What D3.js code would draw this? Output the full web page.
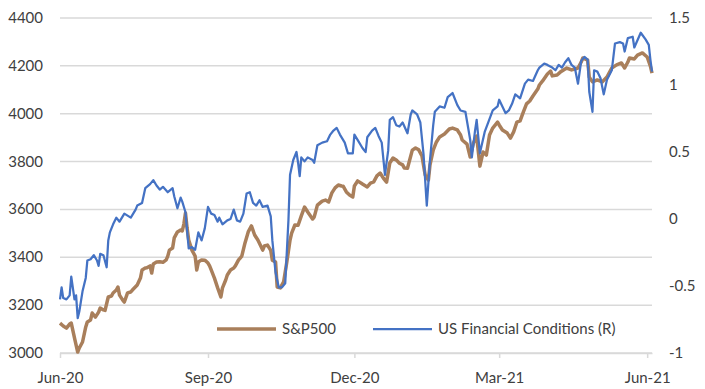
<!DOCTYPE html>
<html>
<head>
<meta charset="utf-8">
<script src="https://cdn.jsdelivr.net/npm/d3@7"></script>
<style>
  body { margin: 0; background: #fff; }
  svg text { font-family: Lato, "Open Sans", sans-serif; font-size: 15px; fill: #404040; }
</style>
</head>
<body>
<svg id="chart" width="705" height="389"></svg>
<script>
// S&P500 (left axis)
const spx = [
  ["2020-06-17",3125],["2020-06-19",3113],["2020-06-21",3104],["2020-06-23",3121],["2020-06-24",3125],["2020-06-26",3063],["2020-06-28",3004],["2020-06-29",3021],
  ["2020-07-01",3046],["2020-07-03",3109],["2020-07-04",3130],["2020-07-06",3138],["2020-07-07",3167],["2020-07-09",3150],["2020-07-11",3171],["2020-07-12",3188],
  ["2020-07-14",3180],["2020-07-15",3178],["2020-07-17",3234],["2020-07-19",3238],["2020-07-20",3251],["2020-07-22",3263],["2020-07-23",3276],["2020-07-24",3242],
  ["2020-07-26",3221],["2020-07-27",3213],["2020-07-29",3251],["2020-07-31",3255],["2020-08-01",3263],["2020-08-04",3284],["2020-08-06",3313],["2020-08-07",3347],
  ["2020-08-09",3355],["2020-08-10",3356],["2020-08-12",3364],["2020-08-13",3334],["2020-08-14",3372],["2020-08-16",3380],["2020-08-18",3381],["2020-08-20",3379],
  ["2020-08-22",3389],["2020-08-23",3405],["2020-08-24",3430],["2020-08-26",3439],["2020-08-27",3481],["2020-08-29",3506],["2020-08-31",3514],["2020-09-01",3510],
  ["2020-09-02",3539],["2020-09-03",3585],["2020-09-04",3522],["2020-09-05",3472],["2020-09-07",3430],["2020-09-09",3405],["2020-09-10",3347],["2020-09-11",3380],
  ["2020-09-13",3389],["2020-09-15",3388],["2020-09-17",3376],["2020-09-18",3364],["2020-09-19",3347],["2020-09-21",3313],["2020-09-23",3272],["2020-09-25",3234],
  ["2020-09-26",3272],["2020-09-28",3305],["2020-09-29",3326],["2020-10-01",3347],["2020-10-03",3355],["2020-10-04",3364],["2020-10-06",3389],["2020-10-07",3397],
  ["2020-10-08",3405],["2020-10-10",3460],["2020-10-12",3506],["2020-10-14",3531],["2020-10-16",3493],["2020-10-18",3472],["2020-10-21",3430],["2020-10-22",3447],
  ["2020-10-24",3451],["2020-10-26",3429],["2020-10-27",3388],["2020-10-29",3380],["2020-10-30",3276],["2020-11-01",3272],["2020-11-03",3297],["2020-11-05",3380],
  ["2020-11-07",3472],["2020-11-08",3501],["2020-11-10",3535],["2020-11-12",3534],["2020-11-14",3573],["2020-11-16",3610],["2020-11-18",3589],["2020-11-21",3560],
  ["2020-11-22",3568],["2020-11-24",3618],["2020-11-27",3635],["2020-11-29",3639],["2020-12-01",3631],["2020-12-03",3669],["2020-12-05",3690],["2020-12-07",3702],
  ["2020-12-09",3698],["2020-12-10",3697],["2020-12-12",3673],["2020-12-14",3660],["2020-12-16",3652],["2020-12-17",3698],["2020-12-19",3719],["2020-12-20",3715],
  ["2020-12-22",3706],["2020-12-25",3694],["2020-12-27",3710],["2020-12-29",3715],["2020-12-31",3740],["2021-01-02",3752],["2021-01-04",3731],["2021-01-06",3714],
  ["2021-01-08",3794],["2021-01-10",3815],["2021-01-12",3807],["2021-01-14",3793],["2021-01-16",3786],["2021-01-17",3773],["2021-01-19",3772],["2021-01-22",3848],
  ["2021-01-24",3857],["2021-01-26",3849],["2021-01-28",3823],["2021-01-30",3744],["2021-02-01",3723],["2021-02-02",3786],["2021-02-04",3848],["2021-02-06",3882],
  ["2021-02-08",3903],["2021-02-11",3915],["2021-02-14",3936],["2021-02-16",3940],["2021-02-19",3932],["2021-02-21",3911],["2021-02-22",3890],["2021-02-25",3873],
  ["2021-02-27",3819],["2021-03-01",3878],["2021-03-03",3907],["2021-03-05",3781],["2021-03-07",3840],["2021-03-09",3827],["2021-03-11",3911],["2021-03-13",3940],
  ["2021-03-16",3965],["2021-03-17",3953],["2021-03-19",3932],["2021-03-22",3919],["2021-03-24",3898],["2021-03-26",3924],["2021-03-28",3965],["2021-03-30",3970],
  ["2021-04-01",4007],["2021-04-03",4041],["2021-04-05",4053],["2021-04-07",4074],["2021-04-10",4103],["2021-04-11",4120],["2021-04-13",4137],["2021-04-16",4166],
  ["2021-04-18",4178],["2021-04-19",4158],["2021-04-22",4162],["2021-04-24",4174],["2021-04-26",4183],["2021-04-28",4191],["2021-05-01",4183],["2021-05-03",4187],
  ["2021-05-05",4191],["2021-05-07",4216],["2021-05-08",4233],["2021-05-11",4224],["2021-05-12",4153],["2021-05-14",4133],["2021-05-17",4141],["2021-05-20",4133],
  ["2021-05-23",4153],["2021-05-26",4191],["2021-05-29",4204],["2021-06-01",4212],["2021-06-03",4191],["2021-06-05",4216],["2021-06-06",4233],["2021-06-09",4229],
  ["2021-06-11",4245],["2021-06-14",4254],["2021-06-17",4237],["2021-06-19",4199],["2021-06-20",4170]
];

// US Financial Conditions (right axis)
const fci = [
  ["2020-06-17",-0.60],["2020-06-18",-0.51],["2020-06-19",-0.59],["2020-06-21",-0.60],["2020-06-23",-0.57],["2020-06-24",-0.43],["2020-06-26",-0.60],["2020-06-27",-0.57],
  ["2020-06-28",-0.74],["2020-06-29",-0.69],["2020-07-01",-0.54],["2020-07-03",-0.44],["2020-07-04",-0.31],["2020-07-06",-0.30],["2020-07-08",-0.27],["2020-07-10",-0.31],
  ["2020-07-11",-0.35],["2020-07-12",-0.26],["2020-07-14",-0.27],["2020-07-16",-0.36],["2020-07-17",-0.16],["2020-07-18",-0.10],["2020-07-20",-0.04],["2020-07-22",0.01],
  ["2020-07-24",-0.02],["2020-07-27",0.04],["2020-07-31",0.01],["2020-08-03",0.07],["2020-08-04",0.10],["2020-08-07",0.12],["2020-08-09",0.23],["2020-08-12",0.26],
  ["2020-08-14",0.29],["2020-08-16",0.25],["2020-08-18",0.22],["2020-08-20",0.24],["2020-08-23",0.20],["2020-08-26",0.23],["2020-08-27",0.17],["2020-08-29",0.08],
  ["2020-08-31",0.16],["2020-09-01",0.13],["2020-09-03",0.05],["2020-09-05",-0.22],["2020-09-07",-0.21],["2020-09-09",-0.23],["2020-09-11",-0.10],["2020-09-13",-0.16],
  ["2020-09-15",-0.07],["2020-09-17",0.09],["2020-09-19",0.04],["2020-09-21",0.03],["2020-09-23",-0.02],["2020-09-24",0.01],["2020-09-26",-0.04],["2020-09-29",-0.01],
  ["2020-10-01",0.00],["2020-10-03",0.07],["2020-10-05",-0.01],["2020-10-07",-0.02],["2020-10-09",0.04],["2020-10-11",0.19],["2020-10-13",0.20],["2020-10-15",0.12],
  ["2020-10-17",0.10],["2020-10-19",0.14],["2020-10-21",0.09],["2020-10-24",0.10],["2020-10-26",0.02],["2020-10-27",-0.16],["2020-10-29",-0.40],["2020-10-31",-0.51],
  ["2020-11-02",-0.51],["2020-11-04",-0.48],["2020-11-06",-0.01],["2020-11-07",0.33],["2020-11-09",0.44],["2020-11-11",0.50],["2020-11-12",0.42],["2020-11-13",0.32],
  ["2020-11-14",0.46],["2020-11-16",0.43],["2020-11-18",0.46],["2020-11-21",0.44],["2020-11-22",0.42],["2020-11-24",0.55],["2020-11-27",0.57],["2020-11-30",0.58],
  ["2020-12-02",0.63],["2020-12-04",0.66],["2020-12-06",0.68],["2020-12-08",0.63],["2020-12-11",0.57],["2020-12-13",0.49],["2020-12-16",0.49],["2020-12-17",0.63],
  ["2020-12-19",0.59],["2020-12-22",0.53],["2020-12-24",0.50],["2020-12-25",0.61],["2020-12-28",0.66],["2020-12-30",0.68],["2021-01-01",0.62],["2021-01-03",0.57],
  ["2021-01-05",0.33],["2021-01-07",0.51],["2021-01-08",0.74],["2021-01-10",0.76],["2021-01-12",0.70],["2021-01-14",0.69],["2021-01-16",0.72],["2021-01-19",0.64],
  ["2021-01-21",0.78],["2021-01-22",0.81],["2021-01-25",0.78],["2021-01-27",0.72],["2021-01-29",0.48],["2021-01-31",0.10],["2021-02-02",0.44],["2021-02-04",0.70],
  ["2021-02-05",0.80],["2021-02-08",0.84],["2021-02-11",0.83],["2021-02-13",0.91],["2021-02-16",0.94],["2021-02-19",0.85],["2021-02-21",0.81],["2021-02-24",0.80],
  ["2021-02-26",0.66],["2021-02-27",0.59],["2021-02-28",0.46],["2021-03-02",0.66],["2021-03-03",0.74],["2021-03-05",0.49],["2021-03-08",0.65],["2021-03-13",0.81],
  ["2021-03-16",0.84],["2021-03-17",0.89],["2021-03-21",0.79],["2021-03-23",0.81],["2021-03-25",0.86],["2021-03-27",0.93],["2021-03-28",0.92],["2021-03-30",0.90],
  ["2021-04-02",1.01],["2021-04-04",1.04],["2021-04-07",1.03],["2021-04-10",1.11],["2021-04-11",1.13],["2021-04-14",1.16],["2021-04-16",1.15],["2021-04-19",1.13],
  ["2021-04-21",1.11],["2021-04-23",1.15],["2021-04-25",1.13],["2021-04-27",1.17],["2021-04-29",1.20],["2021-05-01",1.15],["2021-05-03",1.13],["2021-05-05",1.01],
  ["2021-05-07",1.18],["2021-05-09",1.21],["2021-05-11",1.19],["2021-05-12",0.95],["2021-05-14",0.80],["2021-05-15",1.11],["2021-05-17",1.10],["2021-05-19",1.05],
  ["2021-05-21",0.93],["2021-05-23",1.04],["2021-05-26",1.11],["2021-05-28",1.31],["2021-05-31",1.32],["2021-06-02",1.31],["2021-06-03",1.25],["2021-06-05",1.35],
  ["2021-06-08",1.36],["2021-06-09",1.28],["2021-06-13",1.39],["2021-06-16",1.34],["2021-06-18",1.30],["2021-06-19",1.19],["2021-06-20",1.10]
];

const xTicks = ["2020-06-17", "2020-09-17", "2020-12-17", "2021-03-17", "2021-06-17"];
const leftTicks = [3000, 3200, 3400, 3600, 3800, 4000, 4200, 4400];
const rightTicks = [-1, -0.5, 0, 0.5, 1, 1.5];
const seriesNames = ["S&P500", "US Financial Conditions (R)"];

const parse = d3.timeParse("%Y-%m-%d");
const margin = { left: 60, right: 53, top: 18, bottom: 36 };
const width = 705, height = 389;
const svg = d3.select("#chart");

const x = d3.scaleTime()
  .domain([parse("2020-06-17"), parse("2021-06-20")])
  .range([margin.left, width - margin.right]);
const yL = d3.scaleLinear().domain([3000, 4400]).range([height - margin.bottom, margin.top]);
const yR = d3.scaleLinear().domain([-1, 1.5]).range([height - margin.bottom, margin.top]);

// gridlines
svg.append("g")
  .selectAll("line")
  .data(leftTicks)
  .join("line")
  .attr("x1", margin.left)
  .attr("x2", width - margin.right)
  .attr("y1", d => yL(d))
  .attr("y2", d => yL(d))
  .attr("stroke", "#d9d9d9")
  .attr("stroke-width", 1.5);

// bottom axis with small ticks
const xAxis = svg.append("g")
  .attr("transform", `translate(0,${yL(3000)})`)
  .call(d3.axisBottom(x)
    .tickValues(xTicks.map(parse))
    .tickFormat(d3.timeFormat("%b-%y"))
    .tickSize(5)
    .tickSizeOuter(0));
xAxis.select(".domain").attr("stroke", "#d9d9d9").attr("stroke-width", 1.5);
xAxis.selectAll(".tick line").attr("stroke", "#d9d9d9").attr("stroke-width", 1.5);
xAxis.selectAll(".tick text").attr("dy", null).attr("y", 30);

// left axis labels
svg.append("g")
  .selectAll("text")
  .data(leftTicks)
  .join("text")
  .attr("x", 43)
  .attr("y", d => yL(d) + 5)
  .attr("text-anchor", "end")
  .text(d => d);

// right axis labels
svg.append("g")
  .selectAll("text")
  .data(rightTicks)
  .join("text")
  .attr("x", 669)
  .attr("y", d => yR(d) + 5)
  .text(d => String(d));

const spxLine = d3.line()
  .x(d => x(parse(d[0])))
  .y(d => yL(d[1]));
const fciLine = d3.line()
  .x(d => x(parse(d[0])))
  .y(d => yR(d[1]));

svg.append("path")
  .datum(spx)
  .attr("d", spxLine)
  .attr("fill", "none")
  .attr("stroke", "#a97f5b")
  .attr("stroke-width", 3.5)
  .attr("stroke-linejoin", "round");

svg.append("path")
  .datum(fci)
  .attr("d", fciLine)
  .attr("fill", "none")
  .attr("stroke", "#4472c4")
  .attr("stroke-width", 2.25)
  .attr("stroke-linejoin", "round");

// legend
const legend = svg.append("g");
const legendItems = [
  { name: seriesNames[0], color: "#a97f5b", w: 3.5, x0: 217 },
  { name: seriesNames[1], color: "#4472c4", w: 2.25, x0: 373 }
];
legendItems.forEach(item => {
  legend.append("line")
    .attr("x1", item.x0).attr("x2", item.x0 + 59)
    .attr("y1", 329).attr("y2", 329)
    .attr("stroke", item.color)
    .attr("stroke-width", item.w);
  legend.append("text")
    .attr("x", item.x0 + 65)
    .attr("y", 334)
    .text(item.name);
});
</script>
</body>
</html>
